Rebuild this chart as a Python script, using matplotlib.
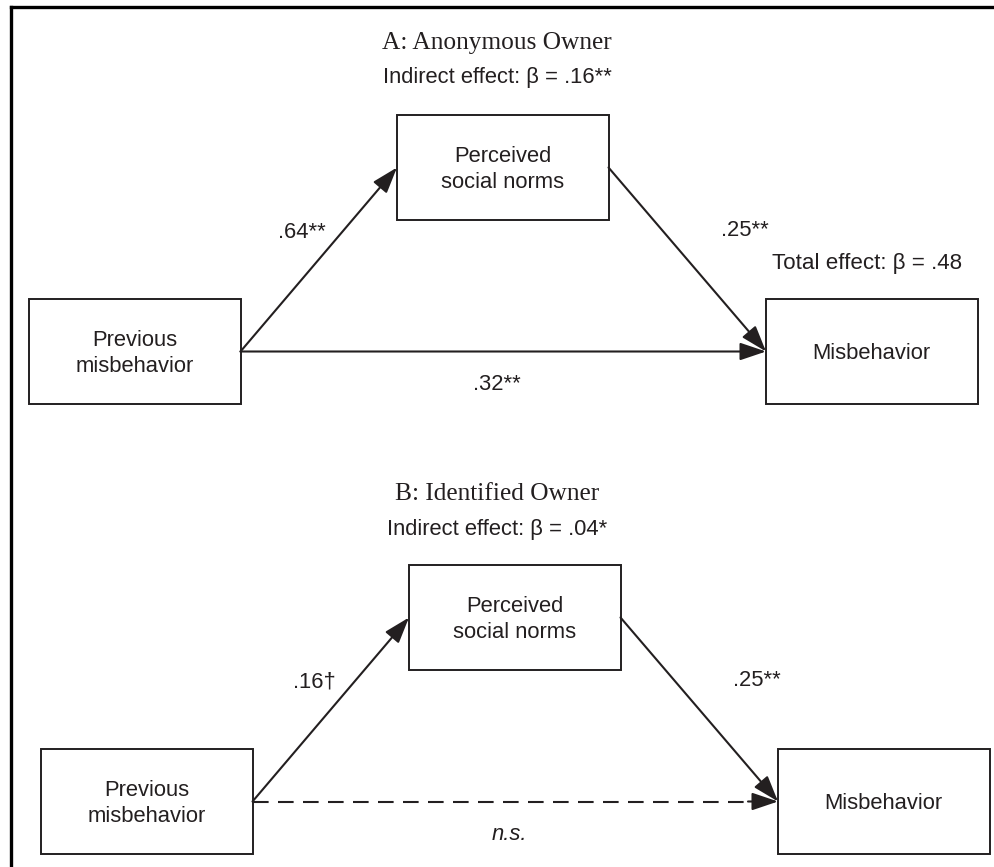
import matplotlib
matplotlib.use("Agg")
import matplotlib.pyplot as plt
from matplotlib.patches import Rectangle, FancyArrowPatch, ArrowStyle

# chart content
panel_titles = ["A: Anonymous Owner", "B: Identified Owner"]
indirect_beta = [".16**", ".04*"]
path_a = [".64**", ".16\u2020"]          # previous misbehavior -> norms
path_b = [".25**", ".25**"]              # norms -> misbehavior
path_c = [".32**", "n.s."]               # direct path
direct_significant = [True, False]
total_beta = [".48", None]
node_labels = ["Previous\nmisbehavior", "Perceived\nsocial norms", "Misbehavior"]

INK = "#231f20"
SANS = "Liberation Sans"
SERIF = "Liberation Serif"
FS = 15.8

fig = plt.figure(figsize=(9.95, 8.67), dpi=100)
ax = fig.add_axes([0, 0, 1, 1])
ax.set_xlim(0, 995)
ax.set_ylim(867, 0)
ax.axis("off")

# frame on left and top only
ax.plot([11, 11], [867, 7], color="black", lw=2.4, solid_capstyle="projecting")
ax.plot([11, 995], [7, 7], color="black", lw=2.4, solid_capstyle="projecting")

BW, BH = 211.5, 105


def box(x, y, label):
    ax.add_patch(Rectangle((x, y), BW, BH, fill=False, ec=INK, lw=1.4))
    lines = label.split("\n")
    n = len(lines)
    for i, ln in enumerate(lines):
        yy = y + BH / 2 + 2 + (i - (n - 1) / 2) * 27
        ax.text(x + BW / 2, yy, ln, ha="center", va="center",
                fontsize=FS, family=SANS, color=INK)


def arrow(p0, p1, dashed=False):
    style = ArrowStyle("-|>", head_length=16, head_width=5.4)
    if dashed:
        dx, dy = p1[0] - p0[0], p1[1] - p0[1]
        d = (dx ** 2 + dy ** 2) ** 0.5
        cut = 22
        pm = (p1[0] - dx / d * cut, p1[1] - dy / d * cut)
        ax.plot([p0[0], pm[0]], [p0[1], pm[1]], color=INK, lw=1.5,
                linestyle=(0, (7.5, 4.5)))
        p0 = (p1[0] - dx / d * 30, p1[1] - dy / d * 30)
    ax.add_patch(FancyArrowPatch(p0, p1, arrowstyle=style, color=INK,
                                 lw=1.5, shrinkA=0, shrinkB=0))


title_y = [43, 494]
indirect_y = [78, 530]

for i in range(2):
    ox = 0 if i == 0 else 12
    oy = 0 if i == 0 else 450
    lx, ly = 29 + ox, 299 + oy
    mx, my = 397 + ox, 115 + oy
    rx, ry = 766 + ox, 299 + oy

    ax.text(497, title_y[i], panel_titles[i], ha="center", va="center",
            fontsize=18.3, family=SERIF, color=INK)
    ax.text(497, indirect_y[i], "Indirect effect: \u03b2 = " + indirect_beta[i],
            ha="center", va="center", fontsize=FS, family=SANS, color=INK)

    box(lx, ly, node_labels[0])
    box(mx, my, node_labels[1])
    box(rx, ry, node_labels[2])

    left_mid = (lx + BW, ly + BH / 2)
    med_l = (mx, my + BH / 2)
    med_r = (mx + BW, my + BH / 2)
    right_mid = (rx, ry + BH / 2)

    arrow(left_mid, med_l)
    arrow(med_r, right_mid)
    arrow(left_mid, right_mid, dashed=not direct_significant[i])

    ax.text(302 + ox, 232 + oy, path_a[i], ha="center", va="center",
            fontsize=FS, family=SANS, color=INK)
    ax.text(745 + ox, 231 + oy, path_b[i], ha="center", va="center",
            fontsize=FS, family=SANS, color=INK)
    ax.text(497 + ox, 385 + oy, path_c[i], ha="center", va="center",
            fontsize=FS, family=SANS, color=INK,
            style="normal" if direct_significant[i] else "italic")
    if total_beta[i] is not None:
        ax.text(867 + ox, 264 + oy, "Total effect: \u03b2 = " + total_beta[i],
                ha="center", va="center", fontsize=16.1, family=SANS, color=INK)

fig.savefig("out.png", dpi=100)
